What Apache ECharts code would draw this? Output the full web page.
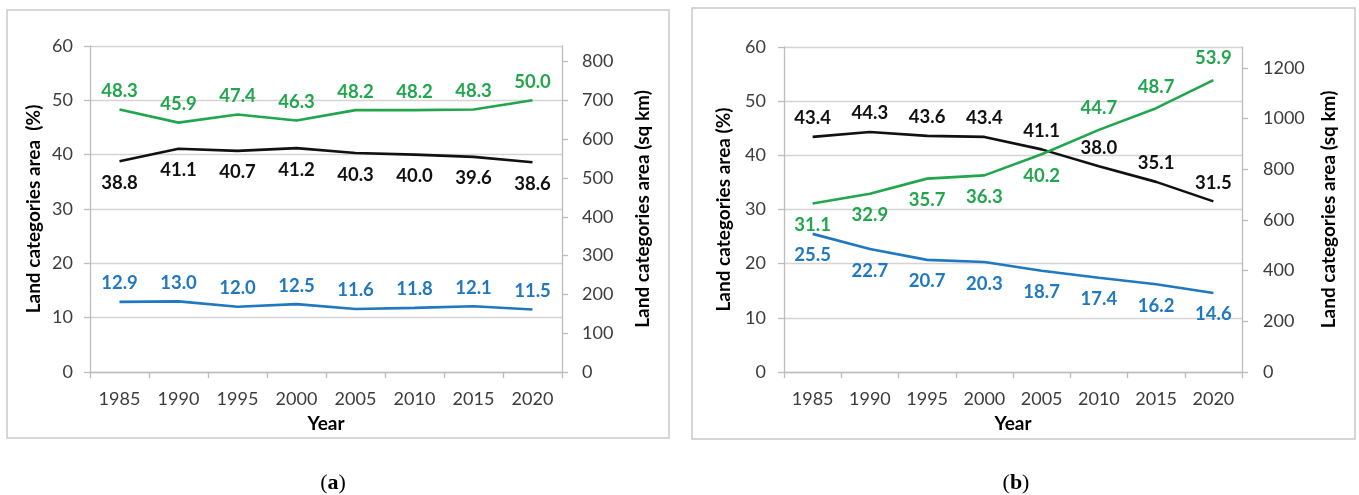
<!DOCTYPE html>
<html>
<head>
<meta charset="utf-8">
<script src="https://cdn.jsdelivr.net/npm/echarts@6.0.0/dist/echarts.min.js"></script>
<style>
html,body{margin:0;padding:0;background:#fff;}
#main{width:1359px;height:495px;}
</style>
</head>
<body>
<div id="main"></div>
<script>
// ---------- data ----------
const years = ['1985', '1990', '1995', '2000', '2005', '2010', '2015', '2020'];

// panel (a)
const aGreen = [48.3, 45.9, 47.4, 46.3, 48.2, 48.2, 48.3, 50.0];
const aBlack = [38.8, 41.1, 40.7, 41.2, 40.3, 40.0, 39.6, 38.6];
const aBlue  = [12.9, 13.0, 12.0, 12.5, 11.6, 11.8, 12.1, 11.5];

// panel (b)
const bBlack = [43.4, 44.3, 43.6, 43.4, 41.1, 38.0, 35.1, 31.5];
const bGreen = [31.1, 32.9, 35.7, 36.3, 40.2, 44.7, 48.7, 53.9];
const bBlue  = [25.5, 22.7, 20.7, 20.3, 18.7, 17.4, 16.2, 14.6];

// axes
const pctMax = 60, pctStep = 10;
const aAreaTicks = [0, 100, 200, 300, 400, 500, 600, 700, 800];
const aAreaMax = 840;
const bAreaTicks = [0, 200, 400, 600, 800, 1000, 1200];
const bAreaMax = 1283;

const yNameA = 'Land categories area  (%)';
const yNameB = 'Land categories area (%)';
const y2Name = 'Land categories area (sq km)';
const xName = 'Year';
const captions = ['a', 'b'];

// ---------- style ----------
const GREEN = '#21a64d', BLACK = '#111111', BLUE = '#1f78c0';
const FONT = 'Lato';
const gridLine = '#d4d4d4', axisCol = '#bdbdbd', tickText = '#3c3c3c';

// label placement per point (style only)
const bGreenPos = ['bottom','bottom','bottom','bottom','bottom','top','top','top'];

function lineSeries(values, color, xi, yi, pos, dist) {
  return {
    type: 'line', xAxisIndex: xi, yAxisIndex: yi,
    data: values.map((v, i) => ({
      value: v,
      label: { position: Array.isArray(pos) ? pos[i] : pos }
    })),
    symbol: 'circle', symbolSize: 0.1, showSymbol: true,
    itemStyle: { color: color },
    lineStyle: { color: color, width: 2.6 },
    label: {
      show: true, distance: dist, color: color,
      fontFamily: FONT, fontWeight: 'bold', fontSize: 18.5,
      formatter: p => p.value.toFixed(1)
    },
    emphasis: { disabled: true },
    silent: true, animation: false, z: 3
  };
}

function pctAxis(gi, name, gap, margin) {
  return {
    type: 'value', gridIndex: gi, position: 'left', min: 0, max: pctMax, interval: pctStep,
    name: name, nameLocation: 'middle', nameGap: gap, nameRotate: 90,
    nameTextStyle: { fontFamily: FONT, fontWeight: 'bold', fontSize: 19, color: '#000' },
    axisLine: { show: true, lineStyle: { color: axisCol, width: 1.3 } },
    axisTick: { show: true, length: 6, lineStyle: { color: axisCol, width: 1.3 } },
    axisLabel: { fontFamily: FONT, fontSize: 18, color: tickText, margin: margin, formatter: v => String(v) },
    splitLine: { show: true, lineStyle: { color: gridLine, width: 1.3 } }
  };
}

function areaAxis(gi, max, ticks, gap, margin) {
  return {
    type: 'value', gridIndex: gi, position: 'right', min: 0, max: max,
    name: y2Name, nameLocation: 'middle', nameGap: gap, nameRotate: 90,
    nameTextStyle: { fontFamily: FONT, fontWeight: 'bold', fontSize: 19, color: '#000' },
    axisLine: { show: true, lineStyle: { color: axisCol, width: 1.3 } },
    axisTick: { show: true, length: 6, customValues: ticks, lineStyle: { color: axisCol, width: 1.3 } },
    axisLabel: { fontFamily: FONT, fontSize: 18, color: tickText, margin: margin, customValues: ticks,
      formatter: v => String(v) },
    splitLine: { show: false }
  };
}

function yearAxis(gi) {
  return {
    type: 'category', gridIndex: gi, data: years, boundaryGap: true,
    name: xName, nameLocation: 'middle', nameGap: 42,
    nameTextStyle: { fontFamily: FONT, fontWeight: 'bold', fontSize: 19, color: '#000' },
    axisLine: { show: true, lineStyle: { color: axisCol, width: 1.3 } },
    axisTick: { show: true, length: 6, alignWithLabel: false, lineStyle: { color: axisCol, width: 1.3 } },
    axisLabel: { fontFamily: FONT, fontSize: 18, color: tickText, margin: 18, interval: 0 },
    splitLine: { show: false }
  };
}

const chart = echarts.init(document.getElementById('main'), null, { renderer: 'canvas' });
chart.setOption({
  backgroundColor: '#fff',
  animation: false,
  grid: [
    { left: 90, top: 46, width: 472, height: 326 },
    { left: 784, top: 47, width: 458, height: 325 }
  ],
  xAxis: [yearAxis(0), yearAxis(1)],
  yAxis: [
    pctAxis(0, yNameA, 47, 17),
    areaAxis(0, aAreaMax, aAreaTicks, 71, 20),
    pctAxis(1, yNameB, 51, 18),
    areaAxis(1, bAreaMax, bAreaTicks, 77, 21)
  ],
  series: [
    lineSeries(aGreen, GREEN, 0, 0, 'top', 9),
    lineSeries(aBlack, BLACK, 0, 0, 'bottom', 12),
    lineSeries(aBlue, BLUE, 0, 0, 'top', 9),
    lineSeries(bBlack, BLACK, 1, 2, 'top', 9),
    lineSeries(bGreen, GREEN, 1, 2, bGreenPos, 12),
    lineSeries(bBlue, BLUE, 1, 2, 'bottom', 12)
  ],
  graphic: [
    { type: 'rect', shape: { x: 7, y: 10, width: 662, height: 428 },
      style: { fill: 'none', stroke: '#c9c9c9', lineWidth: 1.5 }, silent: true, z: -1 },
    { type: 'rect', shape: { x: 692, y: 8, width: 663, height: 431 },
      style: { fill: 'none', stroke: '#c9c9c9', lineWidth: 1.5 }, silent: true, z: -1 },
    { type: 'text', x: 333, y: 483, silent: true,
      style: { text: '({b|' + captions[0] + '})', align: 'center', verticalAlign: 'middle',
        fontFamily: 'Liberation Serif', fontSize: 22, fill: '#000',
        rich: { b: { fontFamily: 'Liberation Serif', fontSize: 22, fontWeight: 'bold', fill: '#000' } } } },
    { type: 'text', x: 1016, y: 483, silent: true,
      style: { text: '({b|' + captions[1] + '})', align: 'center', verticalAlign: 'middle',
        fontFamily: 'Liberation Serif', fontSize: 22, fill: '#000',
        rich: { b: { fontFamily: 'Liberation Serif', fontSize: 22, fontWeight: 'bold', fill: '#000' } } } }
  ]
});
</script>
</body>
</html>
